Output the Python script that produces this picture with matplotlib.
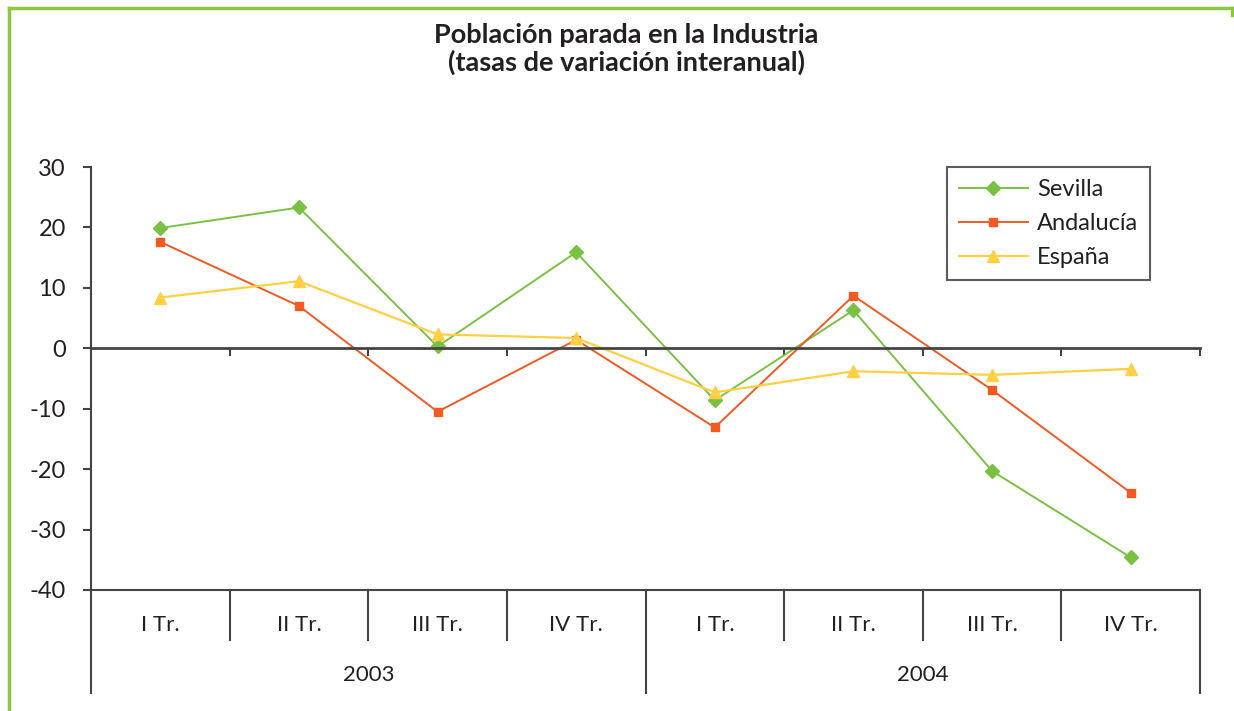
#!/usr/bin/python

# Poblacion parada en la Industria, tasas de variacion interanual

import matplotlib
matplotlib.use('Agg')
import matplotlib.pyplot as plt
from matplotlib.lines import Line2D

quarters = ['I Tr.', 'II Tr.', 'III Tr.', 'IV Tr.', 'I Tr.', 'II Tr.', 'III Tr.', 'IV Tr.']
years = ['2003', '2004']
sevilla = [19.9, 23.3, 0.3, 15.9, -8.6, 6.3, -20.3, -34.6]
andalucia = [17.6, 7.0, -10.5, 1.4, -13.1, 8.7, -6.9, -23.9]
espana = [8.4, 11.1, 2.3, 1.7, -7.3, -3.8, -4.4, -3.4]

INK = '#231f20'
GREEN = '#7ac143'
ORANGE = '#f15a22'
YELLOW = '#ffcf44'

plt.rcParams['font.family'] = ['Lato', 'DejaVu Sans']
plt.rcParams['axes.unicode_minus'] = False

W, H = 1234, 711
fig = plt.figure(figsize=(W / 100, H / 100), dpi=100)

# green frame round the chart (left and top)
frame = '#8dc63f'
fig.add_artist(Line2D([9 / W, 9 / W], [0, 1 - 8 / H], color=frame, lw=2.5,
                      transform=fig.transFigure))
fig.add_artist(Line2D([9 / W, 1232 / W], [1 - 8 / H, 1 - 8 / H], color=frame, lw=2.5,
                      transform=fig.transFigure))
fig.add_artist(Line2D([1232 / W, 1232 / W], [1 - 8 / H, 1 - 15 / H], color=frame, lw=2.5,
                      transform=fig.transFigure))

left, right, top, bottom = 91, 1200, 167, 590
ax = fig.add_axes([left / W, 1 - bottom / H, (right - left) / W, (bottom - top) / H])

x = [i + 0.5 for i in range(len(quarters))]
ax.plot(x, sevilla, color=GREEN, lw=1.4, marker='D', ms=7, label='Sevilla')
ax.plot(x, andalucia, color=ORANGE, lw=1.4, marker='s', ms=6, label='Andalucía')
ax.plot(x, espana, color=YELLOW, lw=1.6, marker='^', ms=9, label='España')

ax.set_xlim(0, len(quarters))
ax.set_ylim(-40, 30)
ax.set_yticks(range(-40, 31, 10))
ax.tick_params(axis='y', direction='out', length=6, width=1.5, color='#444444',
               labelsize=17, labelcolor=INK, pad=12)

# category axis crosses at zero
ax.spines['bottom'].set_position(('data', 0))
ax.spines['bottom'].set_linewidth(2)
ax.spines['bottom'].set_color('#444444')
ax.set_xticks(range(1, len(quarters) + 1))
ax.set_xticklabels([])
ax.tick_params(axis='x', direction='out', length=6, width=1.5, color='#444444')
ax.spines['left'].set_linewidth(1.5)
ax.spines['left'].set_color('#444444')
ax.spines['top'].set_visible(False)
ax.spines['right'].set_visible(False)

# category table below the plot
tr = ax.get_xaxis_transform()
h = bottom - top
q_low = -50 / h
y_low = -103 / h
ax.plot([0, len(quarters)], [0, 0], transform=tr, color='#444444', lw=1.5, clip_on=False)
for i in range(len(quarters) + 1):
    low = y_low if i % 4 == 0 else q_low
    ax.plot([i, i], [0, low], transform=tr, color='#444444', lw=1.5, clip_on=False)
for i, q in enumerate(quarters):
    ax.text(i + 0.5, -35 / h, q, transform=tr, ha='center', va='center',
            fontsize=16, color=INK)
for j, yr in enumerate(years):
    ax.text(j * 4 + 2, -85 / h, yr, transform=tr, ha='center', va='center',
            fontsize=16, color=INK)

leg = ax.legend(loc='upper right', bbox_to_anchor=((1150 - left) / (right - left), 1.0),
                borderaxespad=0, fontsize=17, frameon=True, fancybox=False,
                borderpad=0.5, labelspacing=0.55, handlelength=2.9, handletextpad=0.4)
leg.get_frame().set_edgecolor('#333333')
leg.get_frame().set_linewidth(1.5)
for t in leg.get_texts():
    t.set_color(INK)

fig.text(626 / W, 1 - 49 / H, 'Población parada en la Industria\n(tasas de variación interanual)',
         ha='center', va='center', fontsize=19.5, fontweight='bold', color=INK,
         linespacing=1.15)

fig.savefig('out.png', dpi=100)
